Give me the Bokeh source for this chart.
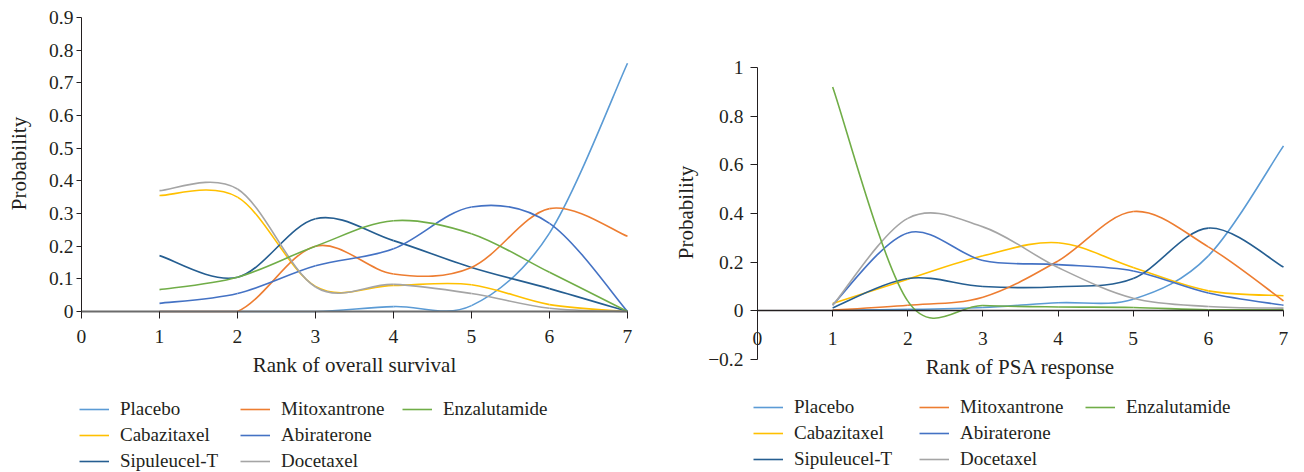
from bokeh.plotting import figure
from bokeh.layouts import row
from bokeh.models import Legend, LegendItem, FixedTicker, Range1d, Label
from bokeh.embed import file_html
from bokeh.resources import INLINE

# ---------------- data ----------------
ranks = [1, 2, 3, 4, 5, 6, 7]
series_names = ["Placebo", "Cabazitaxel", "Sipuleucel-T", "Mitoxantrone",
                "Abiraterone", "Docetaxel", "Enzalutamide"]
series_colors = ["#5B9BD5", "#FFC000", "#255E91", "#ED7D31",
                 "#4472C4", "#A5A5A5", "#70AD47"]

# Rank of overall survival
os_placebo = [0.0, 0.0, 0.0, 0.015, 0.018, 0.24, 0.76]
os_cabazitaxel = [0.355, 0.35, 0.077, 0.08, 0.082, 0.021, 0.0]
os_sipuleucel = [0.171, 0.105, 0.284, 0.217, 0.135, 0.07, 0.0]
os_mitoxantrone = [0.0, 0.0, 0.2, 0.115, 0.135, 0.315, 0.23]
os_abiraterone = [0.025, 0.055, 0.14, 0.192, 0.32, 0.27, 0.0]
os_docetaxel = [0.37, 0.375, 0.075, 0.083, 0.055, 0.01, 0.0]
os_enzalutamide = [0.067, 0.105, 0.2, 0.278, 0.238, 0.12, 0.0]

# Rank of PSA response
psa_placebo = [0.003, 0.006, 0.014, 0.033, 0.048, 0.226, 0.678]
psa_cabazitaxel = [0.03, 0.13, 0.226, 0.28, 0.178, 0.082, 0.062]
psa_sipuleucel = [0.012, 0.133, 0.1, 0.099, 0.133, 0.34, 0.18]
psa_mitoxantrone = [0.003, 0.023, 0.056, 0.205, 0.408, 0.263, 0.041]
psa_abiraterone = [0.025, 0.32, 0.207, 0.19, 0.164, 0.073, 0.023]
psa_docetaxel = [0.022, 0.38, 0.345, 0.178, 0.052, 0.018, 0.011]
psa_enzalutamide = [0.92, 0.04, 0.022, 0.016, 0.014, 0.004, 0.004]

x_ticks = [0, 1, 2, 3, 4, 5, 6, 7]
os_y_ticks = [0, 0.1, 0.2, 0.3, 0.4, 0.5, 0.6, 0.7, 0.8, 0.9]
os_y_labels = ["0", "0.1", "0.2", "0.3", "0.4", "0.5", "0.6", "0.7", "0.8", "0.9"]
psa_y_ticks = [-0.2, 0, 0.2, 0.4, 0.6, 0.8, 1]
psa_y_labels = ["\u22120.2", "0", "0.2", "0.4", "0.6", "0.8", "1"]
y_title = "Probability"
os_x_title = "Rank of overall survival"
psa_x_title = "Rank of PSA response"

os_series = [os_placebo, os_cabazitaxel, os_sipuleucel, os_mitoxantrone,
             os_abiraterone, os_docetaxel, os_enzalutamide]
psa_series = [psa_placebo, psa_cabazitaxel, psa_sipuleucel, psa_mitoxantrone,
              psa_abiraterone, psa_docetaxel, psa_enzalutamide]

FONT = "'Liberation Serif', 'Times New Roman', serif"
TXT = "#231f20"


def smooth_segments(xs, ys):
    """Catmull-Rom style smoothing (like a spreadsheet 'smoothed line') -> bezier segments.
    A segment whose two end values are equal is kept flat."""
    n = len(xs)
    out = dict(x0=[], y0=[], x1=[], y1=[], cx0=[], cy0=[], cx1=[], cy1=[])
    for i in range(n - 1):
        im = max(i - 1, 0)
        ip = min(i + 2, n - 1)
        out["x0"].append(xs[i]); out["y0"].append(ys[i])
        out["x1"].append(xs[i + 1]); out["y1"].append(ys[i + 1])
        out["cx0"].append(xs[i] + (xs[i + 1] - xs[im]) / 6.0)
        out["cx1"].append(xs[i + 1] - (xs[ip] - xs[i]) / 6.0)
        if ys[i] == ys[i + 1]:
            out["cy0"].append(ys[i])
            out["cy1"].append(ys[i + 1])
        else:
            out["cy0"].append(ys[i] + (ys[i + 1] - ys[im]) / 6.0)
            out["cy1"].append(ys[i + 1] - (ys[ip] - ys[i]) / 6.0)
    return out


def make_chart(width, data, x_range, y_range, y_bounds, y_ticks, y_labels, x_title,
               xaxis_style, tick_cfg, legend_cfg, title_pos):
    p = figure(width=width, height=472, output_backend="svg", toolbar_location=None,
               x_range=Range1d(*x_range), y_range=Range1d(*y_range),
               min_border_left=0, min_border_right=0,
               min_border_top=0, min_border_bottom=0)
    p.outline_line_color = None
    p.grid.visible = False
    p.background_fill_color = "white"
    p.border_fill_color = "white"

    renderers = []
    for name, color, ys in zip(series_names, series_colors, data):
        seg = smooth_segments(ranks, ys)
        r = p.bezier(x0="x0", y0="y0", x1="x1", y1="y1", cx0="cx0", cy0="cy0",
                     cx1="cx1", cy1="cy1", source=seg, line_color=color, line_width=1.6)
        renderers.append(r)

    xa = p.xaxis[0]
    xa.fixed_location = 0
    xa.bounds = (0, 7)
    xa.ticker = FixedTicker(ticks=x_ticks)
    xa.major_label_text_font = FONT
    xa.major_label_text_font_size = "19.5px"
    xa.major_label_text_color = TXT
    xa.major_tick_in = 0
    xa.major_tick_out = tick_cfg["xt"]
    xa.minor_tick_line_color = None
    xa.major_label_standoff = tick_cfg["xls"]
    xa.axis_line_color = xaxis_style[0]
    xa.axis_line_width = xaxis_style[1]
    xa.major_tick_line_color = TXT

    ya = p.yaxis[0]
    ya.fixed_location = 0
    ya.bounds = y_bounds
    ya.ticker = FixedTicker(ticks=y_ticks)
    ya.major_label_overrides = {t: l for t, l in zip(y_ticks, y_labels)}
    ya.major_label_text_font = FONT
    ya.major_label_text_font_size = "19.5px"
    ya.major_label_text_color = TXT
    ya.major_tick_in = 0
    ya.major_tick_out = tick_cfg["yt"]
    ya.minor_tick_line_color = None
    ya.major_label_standoff = tick_cfg["yls"]
    ya.axis_line_color = TXT
    ya.major_tick_line_color = TXT

    (yx, yy), (xx, xy) = title_pos
    p.add_layout(Label(x=yx, y=yy, x_units="screen", y_units="screen", text=y_title,
                       angle=90, angle_units="deg", text_align="center",
                       text_baseline="middle", text_font=FONT,
                       text_font_size="21px", text_color=TXT))
    p.add_layout(Label(x=xx, y=xy, x_units="screen", y_units="screen", text=x_title,
                       text_align="center", text_baseline="alphabetic", text_font=FONT,
                       text_font_size="21px", text_color=TXT))

    # legend: three columns, each its own legend box
    cols = [[0, 1, 2], [3, 4, 5], [6]]
    for ci, idxs in enumerate(cols):
        items = [LegendItem(label=series_names[i], renderers=[renderers[i]]) for i in idxs]
        lg = Legend(items=items, location=legend_cfg[ci], orientation="vertical",
                    border_line_color=None, background_fill_alpha=0,
                    label_text_font=FONT, label_text_font_size="19px",
                    label_text_color=TXT, glyph_width=30, glyph_height=22,
                    label_height=22, label_standoff=11, spacing=4,
                    padding=0, margin=0)
        p.add_layout(lg, "center")
    return p


left = make_chart(
    660, os_series, (-1.03846, 7.42308), (-0.49286, 0.95204), (0, 0.9),
    os_y_ticks, os_y_labels, os_x_title, xaxis_style=("#6b6b6b", 2.2),
    tick_cfg=dict(xt=7, xls=12, yt=5, yls=3),
    legend_cfg=[(79, 0), (240, 0), (402, 52)],
    title_pos=((18, 309), (354, 108)))

right = make_chart(
    644, psa_series, (-1.29087, 7.27947), (-0.66438, 1.27534), (-0.2, 1),
    psa_y_ticks, psa_y_labels, psa_x_title, xaxis_style=("#231f20", 1.3),
    tick_cfg=dict(xt=6, xls=15, yt=7, yls=7),
    legend_cfg=[(93, 2), (259, 2), (425, 54)],
    title_pos=((25, 260), (360, 106)))

layout = row(left, right)
open("out.html", "w").write(file_html(layout, INLINE))
